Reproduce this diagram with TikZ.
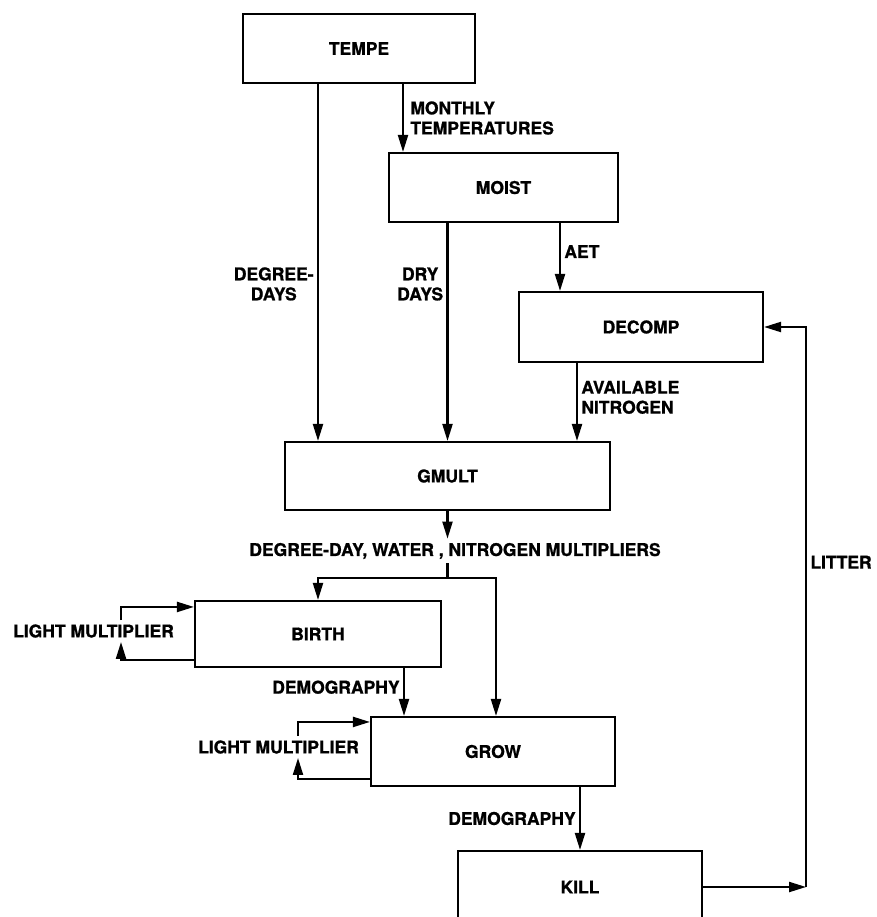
\documentclass[tikz,border=0pt]{standalone}
\usepackage{fontspec}
\setmainfont{TeX Gyre Heros}[BoldFeatures={FakeBold=1}]
\usetikzlibrary{arrows.meta}
\begin{document}
\begin{tikzpicture}[x=1pt, y=-1pt, line width=2.1pt, >={Triangle[length=17pt,width=10pt]},
  every node/.style={font=\fontsize{17.5}{20}\selectfont\bfseries, align=center},
  module/.style={draw, line width=2.1pt, inner sep=0pt}]
\useasboundingbox (0,0) rectangle (876,917);
\node[module, minimum width=232pt, minimum height=69pt] (tempe) at (359,48.5) {TEMPE};
\node[module, minimum width=229pt, minimum height=69pt] (moist) at (503.5,187.5) {MOIST};
\node[module, minimum width=244pt, minimum height=70pt] (decomp) at (641,327) {DECOMP};
\node[module, minimum width=325pt, minimum height=68pt] (gmult) at (447.5,476) {GMULT};
\node[module, minimum width=246pt, minimum height=66pt] (birth) at (318,634) {BIRTH};
\node[module, minimum width=244pt, minimum height=69pt] (grow) at (493,751.5) {GROW};
\node[module, minimum width=244pt, minimum height=72pt] (kill) at (580,887) {KILL};
\node (mult) at (455,551) {DEGREE-DAY, WATER , NITROGEN MULTIPLIERS};
\node (lightb) at (93.5,631) {LIGHT MULTIPLIER};
\node (lightg) at (278.5,747) {LIGHT MULTIPLIER};
\coordinate (tg) at ([xshift=-41pt]tempe.south);
\coordinate (tm) at ([xshift=44pt]tempe.south);
\coordinate (ma) at ([xshift=56.5pt]moist.south);
\coordinate (dg) at ([xshift=-64pt]decomp.south);
\coordinate (split) at ([yshift=-67pt]gmult.south);
\coordinate (bg) at ([xshift=86pt]birth.south);
\coordinate (ret) at ([xshift=103pt]kill.east);
\draw[->] (tg) -- (tg |- gmult.north) node[pos=0.56, left] {DEGREE-\\DAYS};
\draw[->] (tm) -- (tm |- moist.north) node[midway, right, align=left, xshift=3pt] {MONTHLY\\TEMPERATURES};
\draw[->] (moist.south -| gmult.north) -- (gmult.north) node[pos=0.28, left] {DRY\\DAYS};
\draw[->] (ma) -- (ma |- decomp.north) node[pos=0.42, right] {AET};
\draw[->] (dg) -- (dg |- gmult.north) node[pos=0.44, right, align=left] {AVAILABLE\\NITROGEN};
\draw[->] (gmult.south) -- (gmult.south |- mult.north);
\draw (split |- mult.south) -- (split);
\draw[->] (split) -| (birth.north);
\draw[->] (split) -| ([xshift=3pt]grow.north);
\draw[->] (bg) -- (bg |- grow.north) node[pos=0.4, left] {DEMOGRAPHY};
\draw[->] (grow.south -| kill.north) -- (kill.north) node[midway, left] {DEMOGRAPHY};
\draw[->] (kill.east) -- (ret);
\draw[->] (ret) |- (decomp.east) node[pos=0.29, right] {LITTER};
\draw[->] ([xshift=27.5pt]lightb.north) |- ([yshift=-7pt]birth.north west);
\draw[->] ([yshift=8pt]birth.south west) -| ([xshift=27.5pt]lightb.south);
\draw[->] ([xshift=19.5pt]lightg.north) |- ([yshift=-6pt]grow.north west);
\draw[->] ([yshift=8pt]grow.south west) -| ([xshift=19.5pt]lightg.south);
\end{tikzpicture}
\end{document}
